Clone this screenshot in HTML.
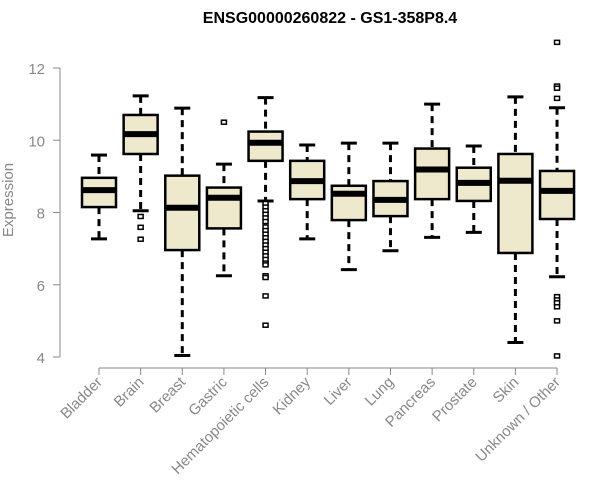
<!DOCTYPE html>
<html><head><meta charset="utf-8"><style>
body{margin:0;background:#fff}
svg{display:block;font-family:"Liberation Sans",Arial,sans-serif}
</style></head><body>
<svg id="chart" width="600" height="500">
<text x="330" y="23" text-anchor="middle" font-weight="bold" font-size="16" fill="#000">ENSG00000260822 - GS1-358P8.4</text>
<text transform="translate(13,200) rotate(-90)" text-anchor="middle" font-size="15" fill="#888">Expression</text>
<g id="g"></g>
</svg>
<script>
const categories=["Bladder","Brain","Breast","Gastric","Hematopoietic cells","Kidney","Liver","Lung","Pancreas","Prostate","Skin","Unknown / Other"];
const lowW=[7.27,8.05,4.04,6.25,8.32,7.27,6.42,6.94,7.31,7.45,4.40,6.22];
const q1=[8.15,9.62,6.96,7.56,9.43,8.37,7.79,7.90,8.37,8.32,6.88,7.82];
const med=[8.62,10.17,8.13,8.41,9.93,8.87,8.52,8.35,9.19,8.82,8.88,8.60];
const q3=[8.96,10.70,9.02,8.69,10.24,9.43,8.74,8.87,9.77,9.24,9.62,9.15];
const highW=[9.59,11.23,10.89,9.34,11.18,9.87,9.92,9.92,11.0,9.84,11.2,10.90];
const outliers=[[],[7.89,7.59,7.26],[],[10.50],
[8.25,8.15,8.05,7.95,7.85,7.75,7.6,7.5,7.4,7.3,7.2,7.1,7.0,6.9,6.8,6.7,6.6,6.55,6.25,6.2,5.69,4.88],
[],[],[],[],[],[],[12.71,11.5,11.44,11.16,5.67,5.58,5.50,5.39,5.0,4.03]];
const yTicks=[4,6,8,10,12];
const NS="http://www.w3.org/2000/svg";
const g=document.getElementById('g');
const y=v=>357-(v-4)*36.125;
const x=i=>99+i*41.64;
function mk(t,a,p){const e=document.createElementNS(NS,t);for(const k in a)e.setAttribute(k,a[k]);(p||g).appendChild(e);return e;}
let ya=mk('line',{x1:60,x2:60,y1:y(12),y2:y(4),stroke:'#888'});


yTicks.forEach(t=>{
 let l=mk('line',{x1:53,x2:60,y1:y(t),y2:y(t),stroke:'#888'});
 
 
 let tx=mk('text',{x:45,y:y(t)+6,'text-anchor':'end','font-size':15,fill:'#888'});
 tx.textContent=t;
 
 
});
let xa=mk('line',{x1:x(0),x2:x(11),y1:368,y2:368,stroke:'#888'});


categories.forEach((c,i)=>{
 const cx=x(i),hw=17;
 let grp=mk('g',{});
 
 
 mk('line',{x1:cx,x2:cx,y1:y(highW[i]),y2:y(q3[i]),stroke:'#000','stroke-width':3,'stroke-dasharray':'7,5'},grp);
 mk('line',{x1:cx,x2:cx,y1:y(q1[i]),y2:y(lowW[i]),stroke:'#000','stroke-width':3,'stroke-dasharray':'7,5'},grp);
 mk('line',{x1:cx-8,x2:cx+8,y1:y(highW[i]),y2:y(highW[i]),stroke:'#000','stroke-width':3},grp);
 mk('line',{x1:cx-8,x2:cx+8,y1:y(lowW[i]),y2:y(lowW[i]),stroke:'#000','stroke-width':3},grp);
 mk('rect',{x:cx-hw,y:y(q3[i]),width:hw*2,height:y(q1[i])-y(q3[i]),fill:'#EEE8CD',stroke:'#000','stroke-width':2.5},grp);
 mk('line',{x1:cx-hw,x2:cx+hw,y1:y(med[i]),y2:y(med[i]),stroke:'#000','stroke-width':6},grp);
 outliers[i].forEach(o=>{
  let r=mk('rect',{x:cx-2.5,y:y(o)-2,width:5,height:4,fill:'#fff',stroke:'#000','stroke-width':1.5},grp);
  
  
 });
 let tk=mk('line',{x1:cx,x2:cx,y1:368,y2:375,stroke:'#888'});
 
 
 let tx=mk('text',{transform:`translate(${cx+4},${383}) rotate(-45)`,'text-anchor':'end','font-size':15,fill:'#888'});
 tx.textContent=c;
 
 
});
</script>
</body></html>
